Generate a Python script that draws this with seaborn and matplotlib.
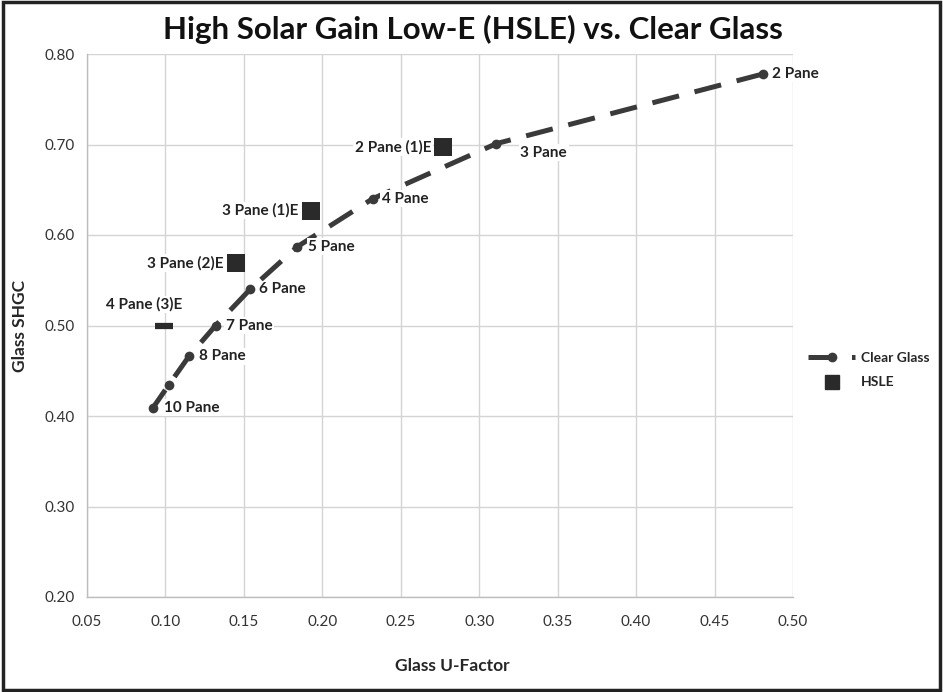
import matplotlib
matplotlib.use("Agg")
import matplotlib.pyplot as plt
from matplotlib.lines import Line2D
from matplotlib.patches import Rectangle
import seaborn as sns
import pandas as pd

# Clear glass series (U-factor vs SHGC)
clear_u = [0.481, 0.311, 0.232, 0.184, 0.154, 0.132, 0.115, 0.102, 0.092]
clear_shgc = [0.778, 0.701, 0.640, 0.587, 0.540, 0.500, 0.466, 0.434, 0.409]
clear_labels = ["2 Pane", "3 Pane", "4 Pane", "5 Pane", "6 Pane", "7 Pane", "8 Pane", "", "10 Pane"]

# HSLE series
hsle_u = [0.277, 0.193, 0.145, 0.099]
hsle_shgc = [0.697, 0.627, 0.569, 0.500]
hsle_labels = ["2 Pane (1)E", "3 Pane (1)E", "3 Pane (2)E", "4 Pane (3)E"]

sns.set_style("whitegrid")
plt.rcParams["font.family"] = ["Lato", "DejaVu Sans"]

clear = pd.DataFrame({"u": clear_u, "shgc": clear_shgc, "label": clear_labels})
hsle = pd.DataFrame({"u": hsle_u, "shgc": hsle_shgc, "label": hsle_labels})

fig = plt.figure(figsize=(9.43, 6.92), dpi=100)
ax = fig.add_axes([87/943, 1-597/692, (793-87)/943, (597-54)/692])

line_col = "#3a3a3a"
sns.lineplot(data=clear, x="u", y="shgc", sort=False, ax=ax, color=line_col,
             linewidth=3.6, linestyle=(0, (5.5, 3.2)), marker="o", markersize=7,
             markeredgewidth=0, estimator=None)
sns.scatterplot(data=hsle.iloc[:3], x="u", y="shgc", ax=ax, marker="s", s=150,
                color="#2a2a2a", linewidth=0)
ax.plot(hsle["u"].iloc[3], hsle["shgc"].iloc[3], marker="_", markersize=13,
        markeredgewidth=4.5, color="#2a2a2a")

ax.set_xlim(0.05, 0.50)
ax.set_ylim(0.20, 0.80)
ax.set_xticks([0.05 + 0.05 * i for i in range(10)])
ax.set_yticks([0.2 + 0.1 * i for i in range(7)])
ax.xaxis.set_major_formatter(matplotlib.ticker.FormatStrFormatter("%.2f"))
ax.yaxis.set_major_formatter(matplotlib.ticker.FormatStrFormatter("%.2f"))
ax.grid(True, color="#d4d4d4", linewidth=1)
for s in ["top", "right"]:
    ax.spines[s].set_visible(False)
for s in ["left", "bottom"]:
    ax.spines[s].set_color("#bdbdbd")
    ax.spines[s].set_linewidth(1)
ax.tick_params(axis="both", which="both", length=5, width=1, color="#bdbdbd",
               labelsize=11, labelcolor="#333333", pad=4)
ax.tick_params(axis="x", pad=8)
ax.set_xlabel("Glass U-Factor", fontsize=12.5, fontweight="bold")
ax.set_ylabel("Glass SHGC", fontsize=12.5, fontweight="bold", labelpad=12)
ax.xaxis.set_label_coords(0.518, -0.113)

# point labels
clear_off = [(9, 0), (24, -9), (9, 0), (11, 0), (9, 0), (10, 0), (10, 0), (0, 0), (11, 0)]
for (x, y, t), off in zip(clear[["u", "shgc", "label"]].values, clear_off):
    if t:
        ax.annotate(t, (x, y), xytext=off, textcoords="offset pixels", ha="left",
                    va="center", fontsize=11, fontweight="bold", color="#222222",
                    bbox=dict(boxstyle="square,pad=0.1", fc="white", ec="none"))
hsle_off = [(-12, 0), (-13, 0), (-13, 0), (-20, 21)]
hsle_ha = ["right", "right", "right", "center"]
for (x, y, t), off, ha in zip(hsle[["u", "shgc", "label"]].values, hsle_off, hsle_ha):
    ax.annotate(t, (x, y), xytext=off, textcoords="offset pixels", ha=ha,
                va="center", fontsize=11, fontweight="bold", color="#222222",
                bbox=dict(boxstyle="square,pad=0.1", fc="white", ec="none"))

fig.suptitle("High Solar Gain Low-E (HSLE) vs. Clear Glass", x=0.502, y=0.978,
             fontsize=22.5, fontweight="bold", color="#111111")

handles = [Line2D([], [], color=line_col, linewidth=3.6, linestyle=(0, (5.5, 3.2)),
                  marker="o", markersize=7, markeredgewidth=0),
           Line2D([], [], color="#2a2a2a", linestyle="none", marker="s", markersize=10)]
fig.legend(handles, ["Clear Glass", "HSLE"], loc="center left",
           bbox_to_anchor=(0.857, 0.465), frameon=False, handlelength=3.4,
           borderpad=0, borderaxespad=0,
           prop={"weight": "bold", "size": 10}, labelspacing=0.9, handletextpad=0.4)

fig.patches.append(Rectangle((0.003, 0.003), 0.994, 0.994, transform=fig.transFigure,
                             fill=False, edgecolor="#222222", linewidth=2.5))

fig.savefig("out.png", dpi=100)
